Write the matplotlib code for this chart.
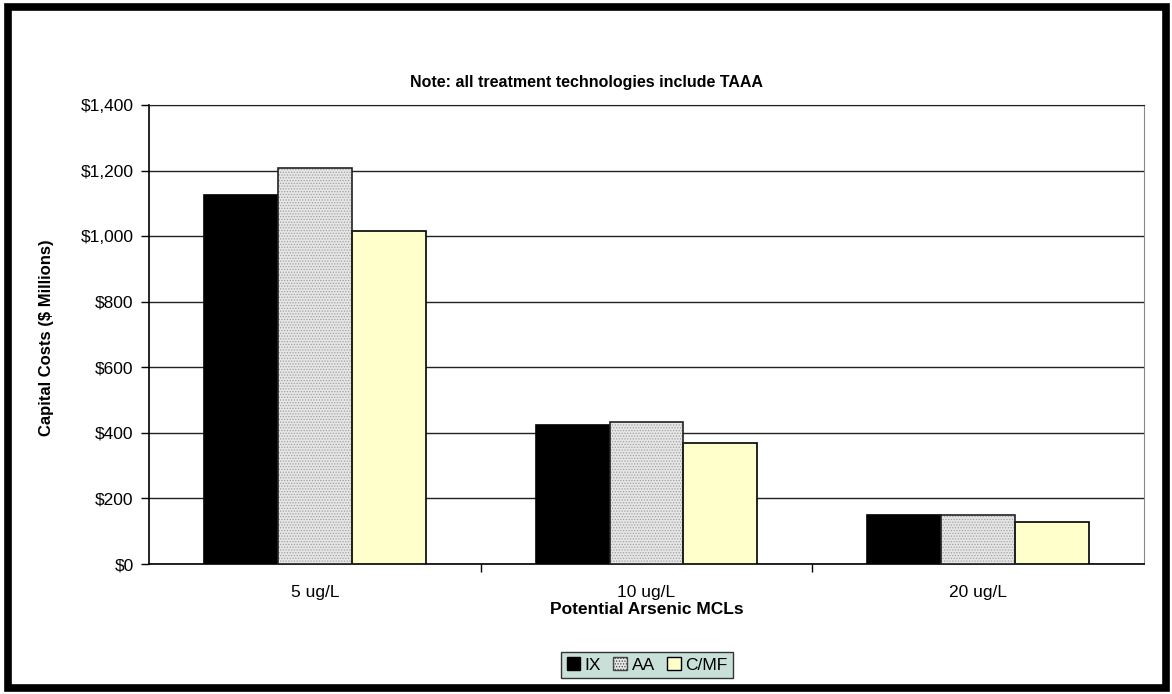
import numpy as np
import matplotlib
matplotlib.use("Agg")
from matplotlib import pyplot as plt
from matplotlib.patches import Rectangle

plt.rcParams['font.family'] = ['Liberation Sans', 'DejaVu Sans']
plt.rcParams['hatch.linewidth'] = 0.6

# data
categories = ['5 ug/L', '10 ug/L', '20 ug/L']
series = ['IX', 'AA', 'C/MF']
ix_vals = [1124, 425, 149]
aa_vals = [1207, 434, 149]
cmf_vals = [1016, 370, 127]
y_ticks = [0, 200, 400, 600, 800, 1000, 1200, 1400]
y_tick_labels = ['$0', '$200', '$400', '$600', '$800', '$1,000', '$1,200', '$1,400']

fig = plt.figure(figsize=(11.72, 6.94), dpi=100)
ax = fig.add_axes([149 / 1172, 1 - 564 / 694, (1144 - 149) / 1172, (564 - 105) / 694])

x = np.arange(len(categories))
w = 0.223

b_ix = ax.bar(x - w, ix_vals, w, facecolor='black', edgecolor='black',
              linewidth=1.2, zorder=3)
# dotted fill for AA, then its outline on top
ax.bar(x, aa_vals, w, facecolor='#e6e6e6', edgecolor='#a0a0a0', hatch='......',
       linewidth=0, zorder=3)
ax.bar(x, aa_vals, w, fill=False, edgecolor='#222222', linewidth=1.2, zorder=4)
b_cmf = ax.bar(x + w, cmf_vals, w, facecolor='#ffffcc', edgecolor='black',
               linewidth=1.2, zorder=3)

ax.set_xlim(-0.5, 2.5)
ax.set_ylim(0, 1400)
ax.set_yticks(y_ticks)
ax.set_yticklabels(y_tick_labels, fontsize=12.5)
ax.yaxis.grid(True, color='#222222', linewidth=1.0, zorder=0)
ax.set_axisbelow(True)

# category labels between boundary ticks
ax.set_xticks([0.5, 1.5])
ax.set_xticklabels([])
ax.tick_params(axis='x', length=6, direction='out', width=1)
ax.tick_params(axis='y', length=6, direction='out', width=1, pad=5)
for xi, lab in zip(x, categories):
    ax.text(xi, -0.045, lab, transform=ax.get_xaxis_transform(), ha='center',
            va='top', fontsize=12.5)

for s in ['left', 'bottom']:
    ax.spines[s].set_color('black')
    ax.spines[s].set_linewidth(1.2)
ax.spines['right'].set_color('#888888')
ax.spines['top'].set_color('#222222')

fig.text(0.5, 1 - 82 / 694, 'Note: all treatment technologies include TAAA',
         ha='center', va='center', fontsize=11.5, fontweight='bold')
fig.text(47 / 1172, 1 - 338 / 694, 'Capital Costs ($ Millions)', rotation=90,
         ha='center', va='center', fontsize=12, fontweight='bold')
fig.text(647 / 1172, 1 - 609 / 694, 'Potential Arsenic MCLs',
         ha='center', va='center', fontsize=12.5, fontweight='bold')

# legend proxies
from matplotlib.patches import Patch
handles = [Patch(facecolor='black', edgecolor='black'),
           Patch(facecolor='#e6e6e6', edgecolor='#444444', hatch='......'),
           Patch(facecolor='#ffffcc', edgecolor='black')]
leg = fig.legend(handles=handles, labels=series, loc='center',
                 bbox_to_anchor=(647 / 1172, 1 - 665 / 694), ncol=3,
                 fontsize=12.5, frameon=True, fancybox=False,
                 handlelength=0.8, handleheight=0.8, handletextpad=0.25,
                 columnspacing=0.7, borderpad=0.3)
leg.get_frame().set_facecolor('#c8e0d8')
leg.get_frame().set_edgecolor('#333333')
leg.get_frame().set_linewidth(1.0)
leg.get_frame().set_alpha(1)

# thick outer border
fig.patches.append(Rectangle((8 / 1172, 6 / 694), 1158 / 1172, 681 / 694,
                             transform=fig.transFigure, fill=False,
                             edgecolor='black', linewidth=5.5))

fig.savefig('out.png', dpi=100)
